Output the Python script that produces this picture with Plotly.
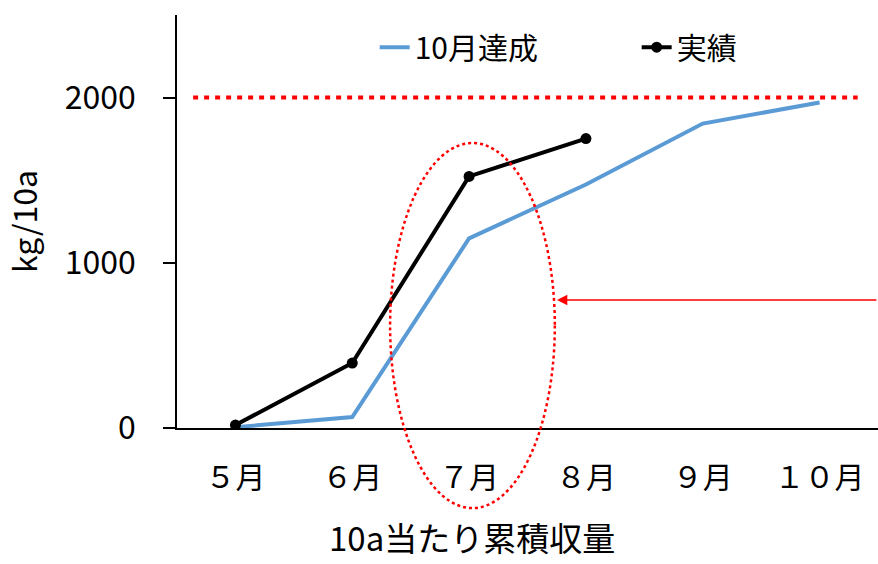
import plotly.graph_objects as go

# Monthly cumulative yield per 10a
months = ["５月", "６月", "７月", "８月", "９月", "１０月"]
plan_oct = [5, 66, 1148, 1474, 1843, 1970]     # path to reach target by October
actual = [18, 393, 1523, 1752]                  # achieved so far
target = 2000

FONT = "Noto Sans CJK JP, Noto Sans, sans-serif"

fig = go.Figure()
fig.add_trace(go.Scatter(
    x=months, y=plan_oct, name="10月達成", mode="lines",
    line=dict(color="#5B9BD5", width=4),
))
fig.add_trace(go.Scatter(
    x=months[:len(actual)], y=actual, name="実績", mode="lines+markers",
    line=dict(color="#000000", width=4),
    marker=dict(color="#000000", size=11),
))

# target level
fig.add_shape(type="line", xref="paper", yref="y",
              x0=0.023, x1=0.971, y0=target, y1=target,
              line=dict(color="#FF0000", width=4, dash="5px,6px"), layer="above")

# highlight around July
fig.add_shape(type="circle", xref="paper", yref="paper",
              x0=0.304, x1=0.539, y0=-0.194, y1=0.690,
              line=dict(color="#FF0000", width=2.5, dash="3px,3px"), layer="above")

# pointer arrow
fig.add_annotation(xref="paper", yref="paper", x=0.542, y=(428 - 300) / 413,
                   ax=321, ay=0, axref="pixel", ayref="pixel",
                   text="", showarrow=True, arrowhead=2, arrowsize=1.3,
                   arrowwidth=1.6, arrowcolor="#FF0000")

# x-axis title
fig.add_annotation(xref="paper", yref="paper", x=0.421, y=-0.327,
                   text="10a当たり累積収量", showarrow=False,
                   font=dict(family=FONT, size=33, color="#000000"),
                   xanchor="center", yanchor="bottom")

fig.update_layout(
    width=878, height=564,
    margin=dict(l=177, r=0, t=15, b=136, autoexpand=False),
    paper_bgcolor="white", plot_bgcolor="white",
    font=dict(family=FONT, color="#000000"),
    showlegend=True,
    legend=dict(orientation="h", x=0.282, y=0.922, xanchor="left", yanchor="middle",
                font=dict(family=FONT, size=30), bgcolor="rgba(0,0,0,0)",
                entrywidth=217, itemwidth=30),
)
fig.update_xaxes(
    type="category", range=[-0.5, 5.5],
    showgrid=False, zeroline=False, automargin=False,
    showline=True, linecolor="#000000", linewidth=1.5,
    ticks="", tickfont=dict(family=FONT, size=30, color="#000000"),
    ticklabelstandoff=22,
)
fig.update_yaxes(
    range=[0, 2500], tickvals=[0, 1000, 2000], showgrid=False, zeroline=False,
    automargin=False,
    showline=True, linecolor="#000000", linewidth=1.5,
    ticks="outside", ticklen=12, tickcolor="#000000", tickwidth=1.5,
    tickfont=dict(family=FONT, size=32, color="#000000"),
    ticklabelstandoff=21,
    title=dict(text="kg/10a", font=dict(family=FONT, size=32, color="#000000"), standoff=21),
)

fig.write_html("out.html")
